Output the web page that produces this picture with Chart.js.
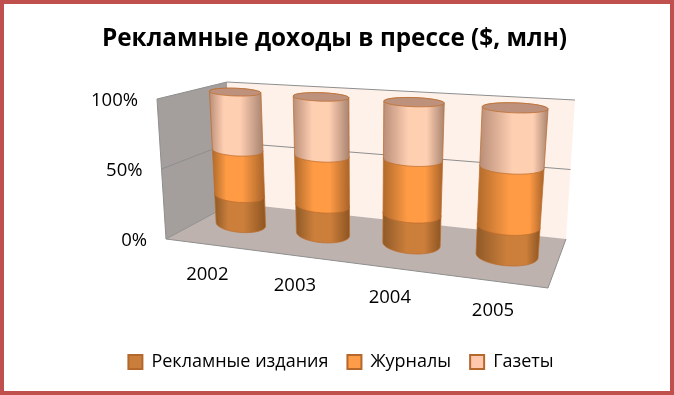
<!DOCTYPE html>
<html lang="ru">
<head>
  <meta charset="UTF-8" />
  <title>Рекламные доходы в прессе</title>
  <style>
    body { margin: 0; padding: 0; background-color: #fff; }
    #chart { display: block; outline: 4px solid #C0504D; outline-offset: -4px; }
  </style>
</head>
<body>
  <canvas id="chart" width="674" height="395"></canvas>

<script src="https://cdn.jsdelivr.net/npm/chart.js@4/dist/chart.umd.min.js"></script>
<script>
  const years = ["2002", "2003", "2004", "2005"];
  const reklamnye = [22, 21, 21, 20];
  const zhurnaly = [34, 36, 38.5, 40];
  const gazety = [44, 43, 40.5, 40];
  const percentTicks = [0, 50, 100];

  const font = "'Open Sans', 'Noto Sans', sans-serif";

  // углы трёхмерной коробки: пол и верхняя плоскость (перед-лево, перед-право, зад-право, зад-лево)
  const floorQuad = [[166, 239], [548, 288], [566, 239], [233, 203]];
  const topQuad = [[157, 99], [562, 124], [575, 100], [227, 82]];

  function makeHomography(q) {
    const [x0, y0] = q[0], [x1, y1] = q[1], [x2, y2] = q[2], [x3, y3] = q[3];
    const dx1 = x1 - x2, dx2 = x3 - x2, sx = x0 - x1 + x2 - x3;
    const dy1 = y1 - y2, dy2 = y3 - y2, sy = y0 - y1 + y2 - y3;
    const det = dx1 * dy2 - dx2 * dy1;
    const g = (sx * dy2 - dx2 * sy) / det;
    const h = (dx1 * sy - sx * dy1) / det;
    return (u, d) => {
      const w = g * u + h * d + 1;
      return [
        ((x1 - x0 + g * x1) * u + (x3 - x0 + h * x3) * d + x0) / w,
        ((y1 - y0 + g * y1) * u + (y3 - y0 + h * y3) * d + y0) / w
      ];
    };
  }
  const floorH = makeHomography(floorQuad);
  const topH = makeHomography(topQuad);

  // u - вдоль оси лет, d - глубина, v - доля высоты
  function project(u, d, v) {
    const a = floorH(u, d), b = topH(u, d);
    return [a[0] + (b[0] - a[0]) * v, a[1] + (b[1] - a[1]) * v];
  }

  function fillPoly(ctx, pts, color) {
    ctx.beginPath();
    pts.forEach((p, i) => i ? ctx.lineTo(p[0], p[1]) : ctx.moveTo(p[0], p[1]));
    ctx.closePath();
    ctx.fillStyle = color;
    ctx.fill();
  }

  function line(ctx, a, b, color) {
    ctx.beginPath();
    ctx.moveTo(a[0], a[1]);
    ctx.lineTo(b[0], b[1]);
    ctx.strokeStyle = color;
    ctx.lineWidth = 1;
    ctx.stroke();
  }

  function drawWalls(ctx, chart) {
    const edge = "#8E8E8E";
    fillPoly(ctx, [project(0, 0, 0), project(0, 1, 0), project(0, 1, 1), project(0, 0, 1)], "#A49F9C");
    fillPoly(ctx, [project(0, 1, 0), project(1, 1, 0), project(1, 1, 1), project(0, 1, 1)], "#FEF1EA");
    fillPoly(ctx, [project(0, 0, 0), project(1, 0, 0), project(1, 1, 0), project(0, 1, 0)], "#BDB2AE");

    const y = chart.scales.y;
    y.ticks.forEach(t => {
      const v = (y.bottom - y.getPixelForValue(t.value)) / (y.bottom - y.top);
      if (v > 0) line(ctx, project(0, 0, v), project(0, 1, v), edge);
      if (v > 0) line(ctx, project(0, 1, v), project(1, 1, v), edge);
    });
    line(ctx, project(0, 0, 0), project(0, 0, 1), edge);
    line(ctx, project(0, 0, 0), project(1, 0, 0), edge);
    line(ctx, project(0, 0, 0), project(0, 1, 0), edge);
    line(ctx, project(1, 0, 0), project(1, 1, 0), edge);
  }

  const ringU = 0.078, ringD = 0.22, centerD = 0.5, tilt = 0.6;
  const lineColor = "rgba(190,110,45,0.75)";

  // эллипс вокруг оси цилиндра: полуось вдоль оси лет и вертикальная полуось из глубины
  function ring(u, v, from, to) {
    const c = project(u, centerD, v);
    const l = project(u - ringU, centerD, v), r = project(u + ringU, centerD, v);
    const ax = (r[0] - l[0]) / 2, ay = (r[1] - l[1]) / 2 * tilt;
    const ry = Math.abs(project(u, centerD + ringD, v)[1] - project(u, centerD - ringD, v)[1]) / 2;
    const pts = [];
    for (let i = 0; i <= 32; i++) {
      const a = from + (to - from) * i / 32;
      pts.push([c[0] + ax * Math.cos(a), c[1] + ay * Math.cos(a) - ry * Math.sin(a)]);
    }
    return pts;
  }

  function drawSegment(ctx, u, v0, v1, shades) {
    const pts = ring(u, v0, Math.PI, Math.PI * 2).concat(ring(u, v1, 0, Math.PI));
    const xs = pts.map(p => p[0]);
    const hi = 0.42 + (u - 0.125) * 0.28;
    const g = ctx.createLinearGradient(Math.min(...xs), 0, Math.max(...xs), 0);
    g.addColorStop(0, shades[0]);
    g.addColorStop(hi - 0.15, shades[1]);
    g.addColorStop(hi + 0.15, shades[1]);
    g.addColorStop(1, shades[2]);
    fillPoly(ctx, pts, g);
    ctx.strokeStyle = lineColor;
    ctx.lineWidth = 1;
    ctx.stroke();
  }

  function drawCylinders(ctx, chart) {
    const area = chart.chartArea;
    const palette = [
      ["#8F5A28", "#CC7F3B", "#8E5522"],
      ["#B06A2B", "#FF9B45", "#A9642A"],
      ["#B98E78", "#FFCFB2", "#A98470"]
    ];
    years.forEach((_, j) => {
      let topV = 0, u = 0;
      chart.data.datasets.forEach((ds, i) => {
        const el = chart.getDatasetMeta(i).data[j];
        u = (el.x - area.left) / area.width;
        const v0 = (area.bottom - el.base) / area.height;
        const v1 = (area.bottom - el.y) / area.height;
        drawSegment(ctx, u, v0, v1, palette[i]);
        topV = v1;
      });
      fillPoly(ctx, ring(u, topV, 0, Math.PI * 2), "#BE917D");
      ctx.strokeStyle = lineColor;
      ctx.lineWidth = 1;
      ctx.stroke();
    });
  }

  function drawLabels(ctx, chart) {
    const x = chart.scales.x, y = chart.scales.y;
    ctx.fillStyle = "#000";
    ctx.font = "18.5px " + font;
    ctx.textBaseline = "middle";
    ctx.textAlign = "right";
    y.ticks.forEach(t => {
      const v = (y.bottom - y.getPixelForValue(t.value)) / (y.bottom - y.top);
      const p = project(0, 0, v);
      ctx.fillText(t.label, p[0] - 19, p[1] + 1.5);
    });
    ctx.textAlign = "center";
    x.ticks.forEach((t, i) => {
      const u = (x.getPixelForTick(i) - x.left) / x.width;
      const p = project(u, 0, 0);
      ctx.fillText(t.label, p[0], p[1] + 30);
    });
  }

  const cylinderPlugin = {
    id: "cylinders",
    afterLayout(chart) {
      // заголовок и легенда в оригинале чуть смещены от центра
      chart.titleBlock.left -= 2.5;
      chart.titleBlock.right -= 2.5;
      chart.legend.left += 4;
      chart.legend.right += 4;
    },
    beforeDatasetsDraw(chart) {
      const ctx = chart.ctx;
      ctx.save();
      drawWalls(ctx, chart);
      drawCylinders(ctx, chart);
      drawLabels(ctx, chart);
      ctx.restore();
      return false; // плоские столбцы не рисуем
    }
  };

  const seriesStyle = (label, data, color) => ({
    label, data, backgroundColor: color, borderColor: "#B5682C", borderWidth: 2
  });

  new Chart(document.getElementById("chart"), {
    type: "bar",
    data: {
      labels: years,
      datasets: [
        seriesStyle("Рекламные издания", reklamnye, "#C97E3C"),
        seriesStyle("Журналы", zhurnaly, "#FF9C4A"),
        seriesStyle("Газеты", gazety, "#FFC7AB")
      ]
    },
    plugins: [cylinderPlugin],
    options: {
      responsive: false,
      animation: false,
      layout: { padding: { left: 30, right: 30, top: 0, bottom: 14 } },
      scales: {
        x: { stacked: true, grid: { display: false }, border: { display: false }, ticks: { display: false } },
        y: {
          stacked: true, min: 0, max: 100,
          afterBuildTicks: axis => { axis.ticks = percentTicks.map(value => ({ value })); },
          ticks: { display: false, callback: v => v + "%" },
          grid: { display: false }, border: { display: false }
        }
      },
      plugins: {
        tooltip: { enabled: false },
        title: {
          display: true,
          text: "Рекламные доходы в прессе ($, млн)",
          color: "#000",
          font: { family: font, size: 24.3, weight: "bold" },
          padding: { top: 24, bottom: 10 }
        },
        legend: {
          position: "bottom",
          labels: {
            color: "#000",
            boxWidth: 14,
            boxHeight: 14,
            padding: 19,
            font: { family: font, size: 18 }
          }
        }
      }
    }
  });
</script>
</body>
</html>
